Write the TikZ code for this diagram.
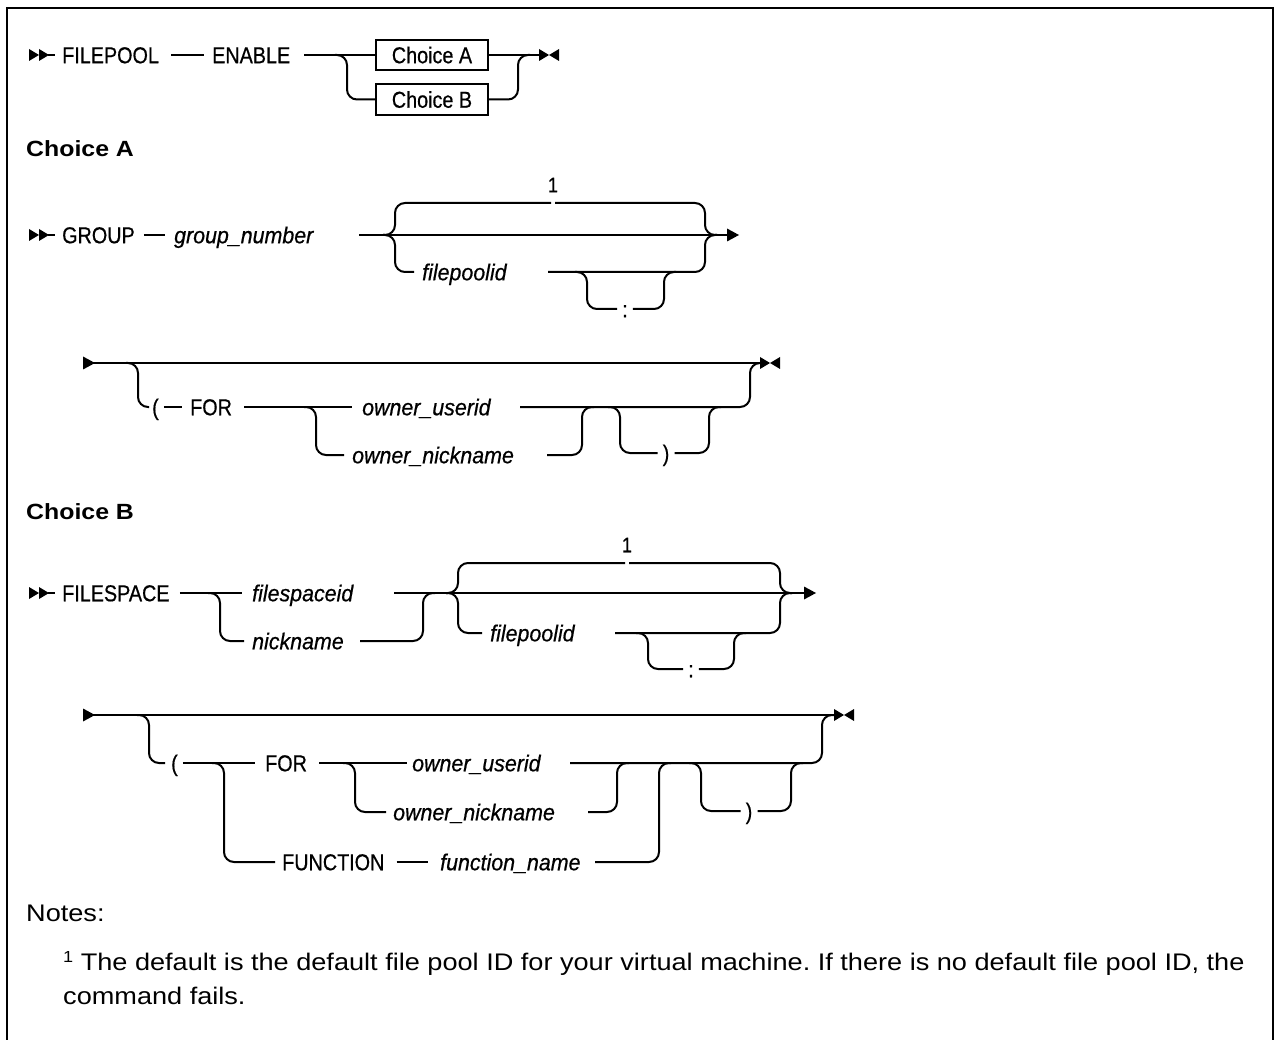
\documentclass[tikz,border=0pt]{standalone}
\usepackage{fontspec}
\setmainfont{Liberation Sans}
\newfontfamily\railfont[FakeStretch=0.86,FakeBold=0.6]{Liberation Sans}
\newfontfamily\varfont[FakeStretch=0.93,FakeBold=0.6]{Liberation Sans}
\newfontfamily\notefont[FakeStretch=1.13]{Liberation Sans}
\frenchspacing
\begin{document}
\begin{tikzpicture}[x=1pt,y=-1pt,
  rail/.style={line width=2pt,rounded corners=10pt},
  kw/.style={font=\fontsize{23}{26}\railfont,inner sep=0pt,text height=16.5pt,text depth=0pt,anchor=west},
  var/.style={kw,font=\fontsize{23}{26}\varfont\itshape},
  choicebox/.style={draw,line width=1.6pt,minimum width=112pt,minimum height=30.5pt,inner sep=0pt,
    font=\fontsize{23}{26}\railfont,text height=16.5pt,text depth=0pt},
  head/.style={font=\fontsize{22}{26}\notefont\bfseries,inner sep=0pt,anchor=base west},
  notetext/.style={font=\fontsize{24}{28}\notefont,inner sep=0pt,anchor=base west},
  dstart/.pic={\fill (0,-6) -- (10,0) -- (0,6) -- cycle (10,-6) -- (20,0) -- (10,6) -- cycle;
               \draw[line width=2pt] (19,0) -- (26,0);},
  dend/.pic={\fill (0,-6) -- (10,0) -- (0,6) -- cycle (20,-6) -- (10,0) -- (20,6) -- cycle;},
  tri/.pic={\fill (0,-6.5) -- (12,0) -- (0,6.5) -- cycle;},
]
\useasboundingbox (0,0) rectangle (1274,1040);
% frame
\draw[line width=2.5pt] (7,1040) -- (7,8) -- (1273,8) -- (1273,1040);

% ---------------- main statement
\pic at (29,55) {dstart};
\node[kw] (fp) at (62,55) {FILEPOOL};
\node[kw] (en) at (212,55) {ENABLE};
\node[choicebox] (ca) at (432,55) {Choice A};
\node[choicebox] (cb) at (432,99.5) {Choice B};
\coordinate (s1) at (347,55);
\coordinate (j1) at (518,55);
\coordinate (e1) at (539,55);
\draw[rail] ([xshift=12pt]fp.east) -- ([xshift=-8pt]en.west);
\draw[rail] ([xshift=14pt]en.east) -- (ca.west);
\draw[rail] (ca.east) -- (e1);
\draw[rail] ([xshift=-12pt]s1) -| (s1 |- cb.west) -- (cb.west);
\draw[rail] (cb.east) -| (j1) -- ([xshift=12pt]j1);
\pic at (e1) {dend};

% ---------------- Choice A
\node[head] (ha) at (26,157) {Choice A};

\pic at (29,235) {dstart};
\node[kw] (grp) at (62,235) {GROUP};
\node[var] (gnum) at (174,235) {group\_number};
\draw[rail] ([xshift=9pt]grp.east) -- ([xshift=-9pt]gnum.west);
\coordinate (a2) at (359,235);
\coordinate (s2) at (395,235);
\coordinate (j2) at (705,235);
\coordinate (e2) at (727,235);
\draw[rail] (a2) -- (e2);
\pic at (e2) {tri};
% default value above the line
\node[kw,anchor=center,font=\fontsize{21}{24}\railfont] (d2) at (553,184) {1};
\draw[rail] ([xshift=-12pt]s2) -| (s2 |- 0,203) -- ([xshift=-2pt]d2.south |- 0,203);
\draw[rail] ([xshift=2pt]d2.south |- 0,203) -| (j2) -- ([xshift=12pt]j2);
% file pool id below the line
\node[var] (fpid2) at (422,272) {filepoolid};
\coordinate (f2) at (548,272);
\draw[rail] ([xshift=-12pt]s2) -| (s2 |- fpid2.west) -- ([xshift=-8pt]fpid2.west);
\draw[rail] (f2) -| (j2) -- ([xshift=12pt]j2);
\node[kw,anchor=center] (col2) at (625,309) {:};
\coordinate (l2) at (587,272);
\coordinate (r2) at (664,272);
\draw[rail] ([xshift=-12pt]l2) -| (l2 |- col2.west) -- ([xshift=-5pt]col2.west);
\draw[rail] ([xshift=5pt]col2.east) -| (r2) -- ([xshift=12pt]r2);

% second line of Choice A
\coordinate (b3) at (84,363);
\coordinate (e3) at (760,363);
\pic at ([xshift=-1pt]b3) {tri};
\draw[rail] (b3) -- (e3);
\pic at (e3) {dend};
\coordinate (s3) at (138,363);
\coordinate (j3) at (750,363);
\node[kw] (lp3) at (152,407) {(};
\node[kw] (for3) at (190,407) {FOR};
\draw[rail] ([xshift=-12pt]s3) -| (s3 |- lp3.west) -- ([xshift=-3pt]lp3.west);
\draw[rail] ([xshift=5pt]lp3.east) -- ([xshift=-8pt]for3.west);
\coordinate (s3b) at (316,407);
\node[var] (ou3) at (362,407) {owner\_userid};
\node[var] (on3) at (352,455) {owner\_nickname};
\draw[rail] ([xshift=12pt]for3.east) -- ([xshift=-10pt]ou3.west);
\draw[rail] ([xshift=-12pt]s3b) -| (s3b |- on3.west) -- ([xshift=-8pt]on3.west);
\coordinate (j3b) at (582,407);
\coordinate (t3b) at (547,455);
\coordinate (t3a) at (520,407);
\draw[rail] (t3b) -| (j3b) -- ([xshift=12pt]j3b);
\draw[rail] (t3a) -| (j3) -- ([xshift=12pt]j3);
\coordinate (l3) at (620,407);
\coordinate (r3) at (709,407);
\node[kw,anchor=center] (rp3) at (666,453) {)};
\draw[rail] ([xshift=-12pt]l3) -| (l3 |- rp3.west) -- ([xshift=-5pt]rp3.west);
\draw[rail] ([xshift=5pt]rp3.east) -| (r3) -- ([xshift=12pt]r3);

% ---------------- Choice B
\node[head] (hb) at (26,519) {Choice B};

\pic at (29,593) {dstart};
\node[kw] (fsp) at (62,593) {FILESPACE};
\coordinate (s4) at (220,593);
\node[var] (fsid) at (252,593) {filespaceid};
\node[var] (nick) at (252,641) {nickname};
\draw[rail] ([xshift=10pt]fsp.east) -- ([xshift=-10pt]fsid.west);
\draw[rail] ([xshift=-12pt]s4) -| (s4 |- nick.west) -- ([xshift=-8pt]nick.west);
\coordinate (j4a) at (423,593);
\coordinate (t4n) at (360,641);
\draw[rail] (t4n) -| (j4a) -- ([xshift=12pt]j4a);
\coordinate (t4a) at (394,593);
\coordinate (s4b) at (458,593);
\coordinate (j4) at (780,593);
\coordinate (e4) at (804,593);
\draw[rail] (t4a) -- (e4);
\pic at (e4) {tri};
\node[kw,anchor=center,font=\fontsize{21}{24}\railfont] (d4) at (627,544) {1};
\draw[rail] ([xshift=-12pt]s4b) -| (s4b |- 0,563) -- ([xshift=-2pt]d4.south |- 0,563);
\draw[rail] ([xshift=2pt]d4.south |- 0,563) -| (j4) -- ([xshift=12pt]j4);
\node[var] (fpid4) at (490,633) {filepoolid};
\coordinate (f4) at (615,633);
\draw[rail] ([xshift=-12pt]s4b) -| (s4b |- fpid4.west) -- ([xshift=-8pt]fpid4.west);
\draw[rail] (f4) -| (j4) -- ([xshift=12pt]j4);
\node[kw,anchor=center] (col4) at (691,669) {:};
\coordinate (l4) at (648,633);
\coordinate (r4) at (734,633);
\draw[rail] ([xshift=-12pt]l4) -| (l4 |- col4.west) -- ([xshift=-5pt]col4.west);
\draw[rail] ([xshift=5pt]col4.east) -| (r4) -- ([xshift=12pt]r4);

% second line of Choice B
\coordinate (b5) at (84,715);
\coordinate (e5) at (834,715);
\pic at ([xshift=-1pt]b5) {tri};
\draw[rail] (b5) -- (e5);
\pic at (e5) {dend};
\coordinate (s5) at (149,715);
\coordinate (j5) at (822,715);
\node[kw] (lp5) at (171,763) {(};
\draw[rail] ([xshift=-12pt]s5) -| (s5 |- lp5.west) -- ([xshift=-6pt]lp5.west);
\coordinate (s5b) at (224,763);
\node[kw] (for5) at (265,763) {FOR};
\draw[rail] ([xshift=5pt]lp5.east) -- ([xshift=-10pt]for5.west);
\node[kw] (fun5) at (282,862) {FUNCTION};
\node[var] (fnm5) at (440,862) {function\_name};
\draw[rail] ([xshift=-12pt]s5b) -| (s5b |- fun5.west) -- ([xshift=-7pt]fun5.west);
\draw[rail] ([xshift=12pt]fun5.east) -- ([xshift=-12pt]fnm5.west);
\coordinate (j5f) at (659,763);
\coordinate (t5f) at (595,862);
\draw[rail] (t5f) -| (j5f) -- ([xshift=12pt]j5f);
\coordinate (s5c) at (355,763);
\node[var] (ou5) at (412,763) {owner\_userid};
\node[var] (on5) at (393,812) {owner\_nickname};
\draw[rail] ([xshift=12pt]for5.east) -- ([xshift=-5pt]ou5.west);
\draw[rail] ([xshift=-12pt]s5c) -| (s5c |- on5.west) -- ([xshift=-7pt]on5.west);
\coordinate (j5o) at (617,763);
\coordinate (t5o) at (588,812);
\coordinate (t5u) at (570,763);
\draw[rail] (t5o) -| (j5o) -- ([xshift=12pt]j5o);
\draw[rail] (t5u) -| (j5) -- ([xshift=12pt]j5);
\coordinate (l5) at (701,763);
\coordinate (r5) at (791,763);
\node[kw,anchor=center] (rp5) at (749,811) {)};
\draw[rail] ([xshift=-12pt]l5) -| (l5 |- rp5.west) -- ([xshift=-5pt]rp5.west);
\draw[rail] ([xshift=5pt]rp5.east) -| (r5) -- ([xshift=12pt]r5);

% ---------------- notes
\node[notetext] (nt) at (26,921) {Notes:};
\node[notetext] (n1) at (63,970) {\raisebox{8pt}{\fontsize{16}{18}\selectfont 1} The default is the default file pool ID for your virtual machine. If there is no default file pool ID, the};
\node[notetext] (n2) at (63,1004) {command fails.};
\end{tikzpicture}
\end{document}
